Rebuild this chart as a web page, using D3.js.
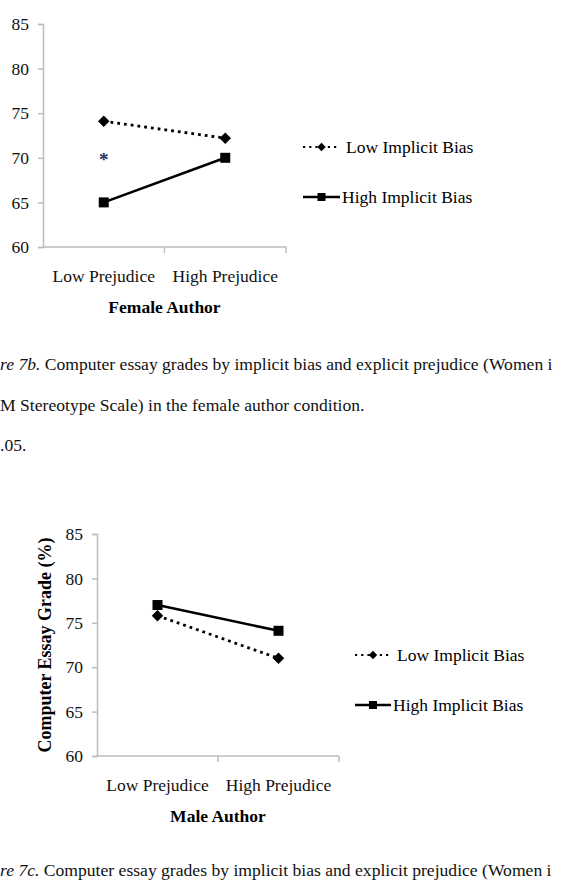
<!DOCTYPE html>
<html>
<head>
<meta charset="utf-8">
<script src="https://cdn.jsdelivr.net/npm/d3@7"></script>
<style>
  body { margin: 0; background: #fff; }
  svg { display: block; font-family: "Liberation Serif", "Times New Roman", serif; }
  .axis path, .axis line { stroke: #bdbdbd; stroke-width: 1.5px; }
  .axis text { fill: #111; }
</style>
</head>
<body>
<svg width="562" height="887"></svg>
<script>
// categories on the x axis
var categories = ["Low Prejudice", "High Prejudice"];
var yTicks = [60, 65, 70, 75, 80, 85];
var seriesNames = ["Low Implicit Bias", "High Implicit Bias"];

// female author condition (fig 7b)
var femaleLow = [74.1, 72.2];
var femaleHigh = [65.0, 70.0];
// male author condition (fig 7c)
var maleLow = [75.8, 71.0];
var maleHigh = [77.0, 74.1];

var svg = d3.select("svg");
var FS = 17.5;

function drawChart(opt) {
  var g = svg.append("g");
  var x = d3.scaleBand().domain(categories).range([opt.left, opt.right]);
  var y = d3.scaleLinear().domain([60, 85]).range([opt.bottom, opt.top]);

  // y axis
  g.append("g").attr("class", "axis")
    .attr("transform", "translate(" + opt.left + ",0)")
    .call(d3.axisLeft(y).tickValues(yTicks).tickSize(5).tickPadding(9))
    .attr("font-family", null).attr("font-size", FS);

  // x axis, ticks sit on band edges
  var xa = g.append("g").attr("class", "axis")
    .attr("transform", "translate(0," + opt.bottom + ")")
    .attr("font-size", FS);
  xa.append("path").attr("d", "M" + opt.left + ",0H" + opt.right);
  var edges = [x.range()[0] + x.bandwidth(), x.range()[1]];
  xa.selectAll("line.edge").data(edges).enter().append("line")
    .attr("x1", function(d) { return d; }).attr("x2", function(d) { return d; })
    .attr("y1", 0).attr("y2", 6);
  xa.selectAll("text.cat").data(categories).enter().append("text")
    .attr("x", function(d) { return x(d) + x.bandwidth() / 2; })
    .attr("y", 35)
    .attr("text-anchor", "middle")
    .text(function(d) { return d; });

  g.append("text")
    .attr("x", opt.left + (opt.right - opt.left) / 2)
    .attr("y", opt.bottom + 66)
    .attr("text-anchor", "middle")
    .attr("font-size", FS).attr("font-weight", "bold")
    .text(opt.title);

  if (opt.ylabel) {
    g.append("text")
      .attr("transform", "translate(" + opt.ylabelX + "," + ((opt.top + opt.bottom) / 2) + ") rotate(-90)")
      .attr("text-anchor", "middle")
      .attr("font-size", 18).attr("font-weight", "bold")
      .text(opt.ylabel);
  }

  var line = d3.line()
    .x(function(d, i) { return x(categories[i]) + x.bandwidth() / 2; })
    .y(function(d) { return y(d); });

  // low implicit bias: dotted with diamonds
  g.append("path").datum(opt.low).attr("d", line)
    .attr("fill", "none").attr("stroke", "#000")
    .attr("stroke-width", 2.8).attr("stroke-dasharray", "2.8,4");
  g.selectAll("path.dia").data(opt.low).enter().append("path")
    .attr("d", d3.symbol(d3.symbolDiamond2, 85))
    .attr("transform", function(d, i) {
      return "translate(" + (x(categories[i]) + x.bandwidth() / 2) + "," + y(d) + ")";
    });

  // high implicit bias: solid with squares
  g.append("path").datum(opt.high).attr("d", line)
    .attr("fill", "none").attr("stroke", "#000").attr("stroke-width", 2.6);
  g.selectAll("rect.sq").data(opt.high).enter().append("rect")
    .attr("x", function(d, i) { return x(categories[i]) + x.bandwidth() / 2 - 5; })
    .attr("y", function(d) { return y(d) - 5; })
    .attr("width", 10).attr("height", 10);

  if (opt.star) {
    g.append("text")
      .attr("x", x(categories[0]) + x.bandwidth() / 2)
      .attr("y", y(opt.star) + 10)
      .attr("text-anchor", "middle")
      .attr("font-size", 19).attr("font-weight", "bold").attr("fill", "#1f2d5a")
      .text("*");
  }

  // legend
  var lg = g.append("g").attr("transform", "translate(" + opt.legX + "," + opt.legY + ")")
    .attr("font-size", FS);
  var lw = opt.legW;
  lg.append("line").attr("x1", 0).attr("x2", lw).attr("y1", 0).attr("y2", 0)
    .attr("stroke", "#000").attr("stroke-width", 2.2).attr("stroke-dasharray", "2.2,4");
  lg.append("path").attr("d", d3.symbol(d3.symbolDiamond2, 45))
    .attr("transform", "translate(" + lw / 2 + ",0)");
  lg.append("text").attr("x", lw + 6).attr("y", 6).text(seriesNames[0]);
  lg.append("line").attr("x1", 0).attr("x2", lw).attr("y1", 50).attr("y2", 50)
    .attr("stroke", "#000").attr("stroke-width", 2.6);
  lg.append("rect").attr("x", lw / 2 - 4).attr("y", 46).attr("width", 8).attr("height", 8);
  lg.append("text").attr("x", lw + 2).attr("y", 56).text(seriesNames[1]);
}

drawChart({ left: 43, right: 286, top: 24, bottom: 247, title: "Female Author",
  low: femaleLow, high: femaleHigh, star: 70.2, legX: 303, legY: 147, legW: 37 });
drawChart({ left: 97, right: 339, top: 534, bottom: 756, title: "Male Author",
  low: maleLow, high: maleHigh, ylabel: "Computer Essay Grade (%)", ylabelX: 51,
  legX: 355, legY: 655, legW: 36 });

// captions, as far as they show on the cropped page
function caption(italic, rest, yy) {
  var t = svg.append("text").attr("x", 0).attr("y", yy)
    .attr("font-size", 17.6).attr("fill", "#111");
  if (italic) t.append("tspan").attr("font-style", "italic").text(italic);
  t.append("tspan").text(rest);
}
caption("re 7b.", " Computer essay grades by implicit bias and explicit prejudice (Women i", 370);
caption(null, "M Stereotype Scale) in the female author condition.", 411);
caption(null, ".05.", 451);
caption("re 7c.", " Computer essay grades by implicit bias and explicit prejudice (Women i", 876);
</script>
</body>
</html>
